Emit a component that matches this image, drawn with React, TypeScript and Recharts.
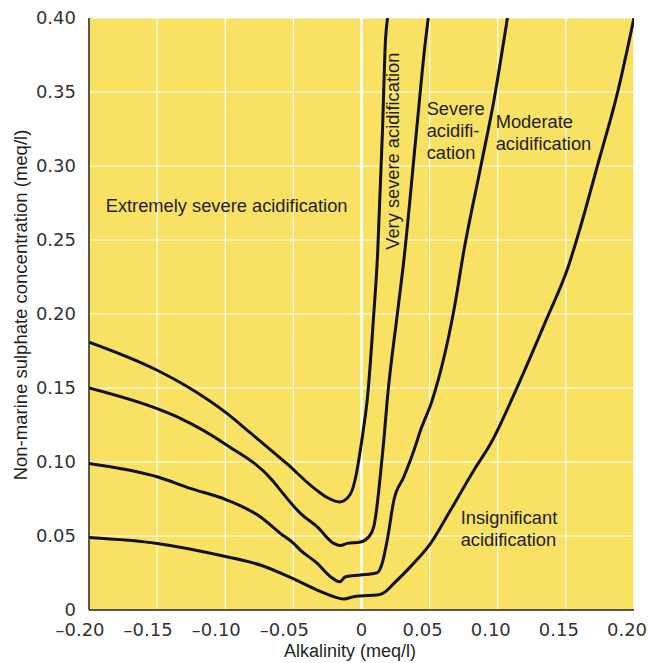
import {
  LineChart,
  Line,
  XAxis,
  YAxis,
  CartesianGrid,
  ReferenceLine,
  ReferenceDot,
  Label,
} from "recharts";

// Axis ticks
const xTicks = [-0.2, -0.15, -0.1, -0.05, 0, 0.05, 0.1, 0.15, 0.2];
const yTicks = [0, 0.05, 0.1, 0.15, 0.2, 0.25, 0.3, 0.35, 0.4];

// Boundary between "Extremely severe" and "Very severe"
const extremeX = [-0.2, -0.15, -0.128, -0.099, -0.082, -0.055, -0.033, -0.0252, -0.016, -0.0105, -0.0068, -0.0037, -0.0012, 0.0017, 0.0042, 0.009, 0.0118, 0.0154, 0.0176, 0.0191];
const extremeY = [0.181, 0.162, 0.151, 0.133, 0.12, 0.099, 0.081, 0.076, 0.073, 0.0755, 0.081, 0.0924, 0.106, 0.124, 0.142, 0.2, 0.24, 0.324, 0.385, 0.4];

// Boundary between "Very severe" and "Severe"
const verySevereX = [-0.2, -0.15, -0.133, -0.099, -0.0645, -0.0596, -0.045, -0.0326, -0.0204, -0.0154, -0.0105, -0.0007, 0.0054, 0.009, 0.011, 0.0127, 0.0145, 0.0164, 0.0189, 0.0263, 0.0311, 0.0404, 0.047, 0.049];
const verySevereY = [0.15, 0.136, 0.1295, 0.1115, 0.0867, 0.081, 0.0655, 0.0563, 0.045, 0.0435, 0.045, 0.046, 0.0495, 0.0563, 0.0676, 0.081, 0.097, 0.115, 0.142, 0.2, 0.2365, 0.324, 0.385, 0.4];

// Boundary between "Severe" and "Moderate"
const severeX = [-0.2, -0.15, -0.1257, -0.0988, -0.0743, -0.0596, -0.0498, -0.0449, -0.0326, -0.0228, -0.016, -0.0118, -0.0007, 0.0115, 0.0152, 0.0189, 0.0238, 0.0311, 0.0385, 0.0434, 0.052, 0.0679, 0.0752, 0.0875, 0.0973, 0.1071];
const severeY = [0.099, 0.09, 0.0822, 0.0743, 0.063, 0.0518, 0.045, 0.0405, 0.0316, 0.0225, 0.0191, 0.0225, 0.0236, 0.0252, 0.0316, 0.0473, 0.0743, 0.09, 0.108, 0.1216, 0.142, 0.203, 0.243, 0.2995, 0.345, 0.4];

// Boundary between "Moderate" and "Insignificant"
const moderateX = [-0.2, -0.15, -0.099, -0.0743, -0.0498, -0.0326, -0.0204, -0.013, -0.0057, -0.0007, 0.0115, 0.0164, 0.0238, 0.036, 0.0507, 0.0654, 0.0826, 0.0949, 0.1145, 0.1365, 0.1512, 0.1598, 0.1743, 0.1875, 0.2];
const moderateY = [0.049, 0.045, 0.036, 0.0304, 0.021, 0.0135, 0.009, 0.0074, 0.009, 0.0095, 0.0101, 0.0117, 0.018, 0.0293, 0.045, 0.0676, 0.0946, 0.1126, 0.151, 0.198, 0.2305, 0.256, 0.304, 0.348, 0.4];

// Region names, anchored in data coordinates
const regionLabels = [
  { lines: ["Extremely severe acidification"], x: -0.099, y: 0.2736, anchor: "middle", rotate: false },
  { lines: ["Very severe acidification"], x: 0.0222, y: 0.31, anchor: "middle", rotate: true },
  { lines: ["Severe", "acidifi-", "cation"], x: 0.0478, y: 0.339, anchor: "start", rotate: false },
  { lines: ["Moderate", "acidification"], x: 0.0985, y: 0.3306, anchor: "start", rotate: false },
  { lines: ["Insignificant", "acidification"], x: 0.0728, y: 0.0626, anchor: "start", rotate: false },
];

const zip = (xs: number[], ys: number[]) => xs.map((x, i) => ({ x, y: ys[i] }));

const curves = [
  zip(extremeX, extremeY),
  zip(verySevereX, verySevereY),
  zip(severeX, severeY),
  zip(moderateX, moderateY),
];

const YELLOW = "#F9E163";
const TEXT = "#1e1e1e";
const LABEL_FONT = "'Liberation Sans', Arial, sans-serif";
const TICK_FONT = "'DejaVu Sans', sans-serif";

function XTick({ x, y, payload }: any) {
  const v = payload.value as number;
  const text = v === 0 ? "0" : (v < 0 ? "\u2013" : "") + Math.abs(v).toFixed(2);
  const dx = v === 0 ? 0 : v < 0 ? -9 : -7;
  return (
    <text x={x + dx} y={y} dy="0.71em" textAnchor="middle" fontFamily={TICK_FONT} fontSize={18} fill="#333">
      {text}
    </text>
  );
}

function RegionText({ cx, cy, lines, anchor, rotate }: any) {
  return (
    <text
      x={cx}
      y={cy}
      textAnchor={anchor}
      dominantBaseline="central"
      fontFamily={LABEL_FONT}
      fontSize={18.3}
      fill={TEXT}
      transform={rotate ? `rotate(-90 ${cx} ${cy})` : undefined}
    >
      {lines.map((l: string, i: number) => (
        <tspan key={l} x={cx} dy={i === 0 ? 0 : 22}>
          {l}
        </tspan>
      ))}
    </text>
  );
}

export default function App() {
  return (
    <div style={{ position: "absolute", left: 0, top: 0, background: "#fff" }}>
      <LineChart width={649} height={663} margin={{ top: 18, right: 15, bottom: 0, left: 0 }}>
        <CartesianGrid fill={YELLOW} fillOpacity={1} stroke="#ffffff" strokeWidth={1.2} />
        <XAxis
          type="number"
          dataKey="x"
          domain={[-0.2, 0.2]}
          ticks={xTicks}
          allowDataOverflow
          height={53}
          tickLine={false}
          tickMargin={7}
          axisLine={{ stroke: "#5b5547", strokeWidth: 2 }}
          tick={<XTick />}
        >
          <Label
            content={() => (
              <text x={350} y={657} textAnchor="middle" fontFamily={LABEL_FONT} fontSize={18} fill={TEXT}>
                Alkalinity (meq/l)
              </text>
            )}
          />
        </XAxis>
        <YAxis
          type="number"
          dataKey="y"
          domain={[0, 0.4]}
          ticks={yTicks}
          allowDataOverflow
          width={89}
          tickLine={false}
          tickMargin={7}
          axisLine={{ stroke: "#222", strokeWidth: 1.5 }}
          tick={{ fontFamily: TICK_FONT, fontSize: 18, fill: "#333" }}
          tickFormatter={(v: number) => (v === 0 ? "0" : v.toFixed(2))}
        >
          <Label
            content={() => (
              <text
                x={27}
                y={305}
                textAnchor="middle"
                fontFamily={LABEL_FONT}
                fontSize={18.5}
                fill={TEXT}
                transform="rotate(-90 27 305)"
              >
                Non-marine sulphate concentration (meq/l)
              </text>
            )}
          />
        </YAxis>
        <ReferenceLine x={0} stroke="#ffffff" strokeWidth={2.5} />
        {curves.map((c, i) => (
          <Line
            key={i}
            data={c}
            dataKey="y"
            type="monotone"
            stroke="#111"
            strokeWidth={3}
            dot={false}
            activeDot={false}
            isAnimationActive={false}
          />
        ))}
        {regionLabels.map((r) => (
          <ReferenceDot
            key={r.lines[0] + r.x}
            x={r.x}
            y={r.y}
            r={0}
            shape={(p: any) => <RegionText cx={p.cx} cy={p.cy} lines={r.lines} anchor={r.anchor} rotate={r.rotate} />}
          />
        ))}
      </LineChart>
    </div>
  );
}
